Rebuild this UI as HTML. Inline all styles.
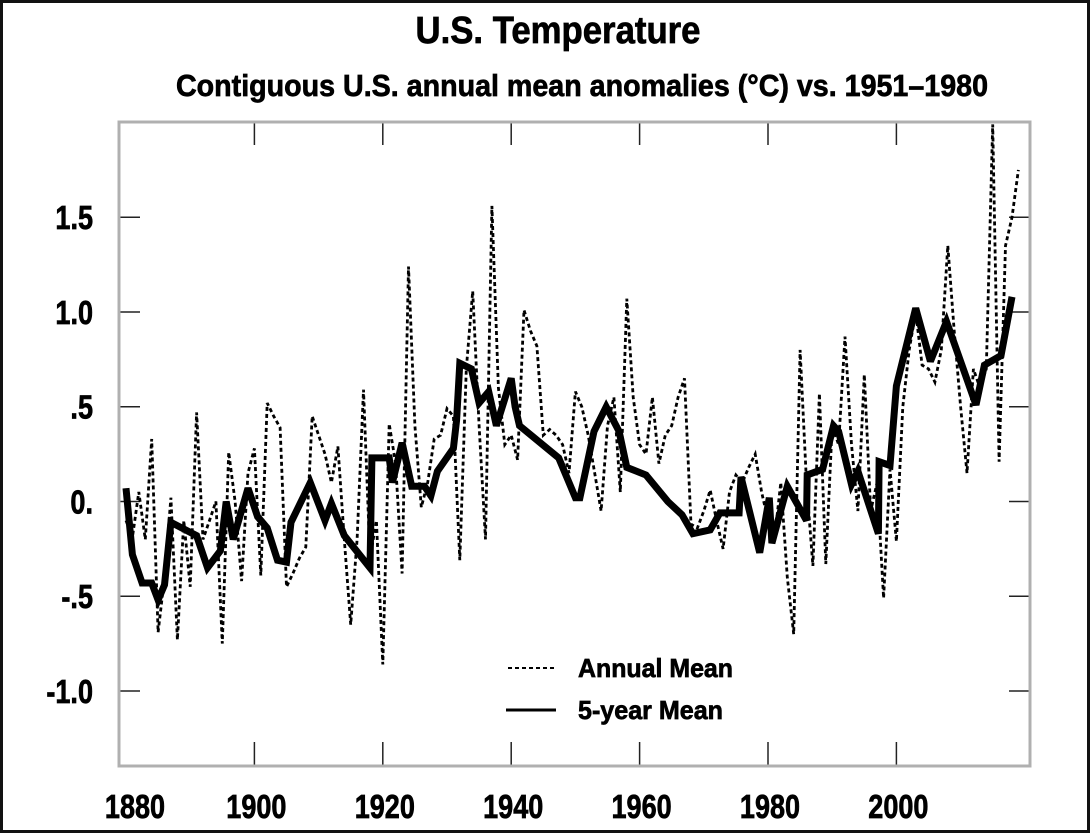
<!DOCTYPE html>
<html><head><meta charset="utf-8"><style>
html,body{margin:0;padding:0;background:#fff;}
svg{display:block;font-family:"Liberation Sans",sans-serif;font-weight:bold;}
text{stroke:#000;stroke-width:0.7px;}
</style></head><body>
<svg id="chart" width="1090" height="833" viewBox="0 0 1090 833" xmlns="http://www.w3.org/2000/svg">
<rect x="1.5" y="1.5" width="1087" height="830" fill="#fff" stroke="#111" stroke-width="3"/>
<text x="558" y="43" text-anchor="middle" font-size="38" textLength="285" lengthAdjust="spacingAndGlyphs">U.S. Temperature</text>
<text x="582" y="96" text-anchor="middle" font-size="31" textLength="812" lengthAdjust="spacingAndGlyphs">Contiguous U.S. annual mean anomalies (°C) vs. 1951–1980</text>
<defs><clipPath id="pc"><rect x="119" y="122" width="911" height="644"/></clipPath></defs>
<g id="ticks"></g>
<g id="series" clip-path="url(#pc)"></g>
<rect x="119" y="122" width="911" height="644" fill="none" stroke="#b0b0b0" stroke-width="3"/>
<g id="labels"></g>
<g>
<line x1="508" y1="668" x2="556" y2="668" stroke="#000" stroke-width="2" stroke-dasharray="4,3"/>
<text x="578" y="677" font-size="26" textLength="155" lengthAdjust="spacingAndGlyphs">Annual Mean</text>
<line x1="506" y1="710" x2="556" y2="710" stroke="#000" stroke-width="3"/>
<text x="578" y="719" font-size="26" textLength="145" lengthAdjust="spacingAndGlyphs">5-year Mean</text>
</g>
</svg>
<script>
const annualYearStart = 1880;
const annualValues = [-0.10,-0.19,0.05,-0.20,0.33,-0.69,-0.40,0.02,-0.73,-0.10,-0.45,0.47,-0.20,-0.10,0.0,-0.75,0.26,0.0,-0.42,0.15,0.28,-0.39,0.52,0.45,0.39,-0.45,-0.38,-0.30,-0.24,0.45,0.35,0.25,0.10,0.29,-0.20,-0.65,-0.20,0.59,-0.30,-0.10,-0.86,0.41,0.20,-0.38,1.24,0.40,-0.03,0.10,0.33,0.35,0.49,0.45,-0.31,0.70,1.11,0.40,-0.20,1.56,0.60,0.30,0.35,0.22,1.01,0.90,0.82,0.35,0.38,0.35,0.30,0.15,0.58,0.50,0.35,0.15,-0.05,0.40,0.55,0.05,1.07,0.55,0.30,0.25,0.55,0.20,0.35,0.40,0.55,0.65,-0.12,-0.14,-0.05,0.06,-0.10,-0.25,0.05,0.14,0.10,0.18,0.25,0.05,-0.10,-0.20,0.10,-0.40,-0.70,0.80,0.10,-0.34,0.57,-0.33,0.40,0.30,0.87,0.30,-0.05,0.67,-0.05,0.10,-0.51,0.17,-0.21,0.50,0.80,1.00,0.72,0.70,0.63,0.80,1.35,0.90,0.50,0.15,0.70,0.60,0.70,1.99,0.21,1.35,1.50,1.75];
const fiveYearYears = [1880,1881,1882.5,1884,1885,1886,1887,1891,1892.7,1894.7,1895.6,1896.7,1899,1900.5,1902,1903.6,1905,1905.7,1908.7,1911,1912,1914,1918,1918.3,1921,1921.5,1923,1924.5,1926.5,1927.5,1928.5,1931,1931.5,1932,1933.8,1935,1936.5,1937.7,1940,1940.6,1941.3,1947.4,1950,1950.7,1952.9,1954.8,1956.8,1958,1961,1964.4,1966.6,1968.3,1971,1972.5,1975.5,1975.8,1978.7,1980.2,1980.6,1983,1986,1986.1,1988.5,1990.2,1991,1993,1994,1997.2,1997.3,1999,2000,2003,2005.3,2007.8,2012.4,2013.7,2016.3,2018];
const fiveYearValues = [0.07,-0.28,-0.43,-0.43,-0.52,-0.44,-0.11,-0.18,-0.35,-0.26,0.0,-0.20,0.07,-0.08,-0.14,-0.31,-0.32,-0.11,0.10,-0.10,-0.01,-0.18,-0.35,0.23,0.23,0.10,0.31,0.08,0.08,0.03,0.16,0.28,0.43,0.73,0.70,0.52,0.58,0.40,0.65,0.50,0.40,0.23,0.02,0.02,0.37,0.50,0.37,0.18,0.14,0.0,-0.07,-0.17,-0.15,-0.06,-0.06,0.13,-0.27,0.02,-0.22,0.08,-0.10,0.14,0.17,0.40,0.37,0.09,0.16,-0.17,0.21,0.19,0.61,1.02,0.74,0.95,0.51,0.72,0.77,1.08];
const yTickValues = [1.5,1.0,0.5,0,-0.5,-1.0];
const yTickLabels = ["1.5","1.0",".5","0.","-.5","-1.0"];
const xTickYears = [1880,1900,1920,1940,1960,1980,2000];
const xTickLabels = ["1880","1900","1920","1940","1960","1980","2000"];

const NS = "http://www.w3.org/2000/svg";
function xs(yr){ return 126 + (yr - 1880) * 6.42; }
function ys(v){ return 501.5 - v * 189.5; }
function mk(tag, attrs, parent){ const e = document.createElementNS(NS, tag); for (const k in attrs) e.setAttribute(k, attrs[k]); parent.appendChild(e); return e; }
const ticks = document.getElementById('ticks');
const labels = document.getElementById('labels');
const series = document.getElementById('series');

yTickValues.forEach((v, i) => {
  const y = ys(v);
  const l = mk('line', {x1:119, y1:y, x2:140, y2:y, stroke:'#222', 'stroke-width':1.5}, ticks);
  
  
  const r = mk('line', {x1:1009, y1:y, x2:1030, y2:y, stroke:'#222', 'stroke-width':1.5}, ticks);
  
  
  const t = mk('text', {x:93 / 0.82, y:y + 12, 'text-anchor':'end', 'font-size':33, transform:'scale(0.82,1)'}, labels);
  
  
  t.textContent = yTickLabels[i];
});
xTickYears.forEach((yr, i) => {
  const x = xs(yr);
  if (i > 0) {
    const a = mk('line', {x1:x, y1:122, x2:x, y2:145, stroke:'#222', 'stroke-width':1.5}, ticks);
    
    
    const b = mk('line', {x1:x, y1:742, x2:x, y2:766, stroke:'#222', 'stroke-width':1.5}, ticks);
    
    
  }
  const cx = i === 0 ? x + 9 : x + 2;
  const t = mk('text', {x:cx / 0.82, y:818, 'text-anchor':'middle', 'font-size':33, transform:'scale(0.82,1)'}, labels);
  
  
  t.textContent = xTickLabels[i];
});

const ap = annualValues.map((v, i) => xs(annualYearStart + i).toFixed(1) + ',' + ys(v).toFixed(1)).join(' ');
const annual = mk('polyline', {points:ap, fill:'none', stroke:'#000', 'stroke-width':2.8, 'stroke-dasharray':'4,3'}, series);


const fp = fiveYearValues.map((v, i) => xs(fiveYearYears[i]).toFixed(1) + ',' + ys(v).toFixed(1)).join(' ');
const five = mk('polyline', {points:fp, fill:'none', stroke:'#000', 'stroke-width':7, 'stroke-linejoin':'miter', 'stroke-miterlimit':3}, series);


</script>
</body></html>
